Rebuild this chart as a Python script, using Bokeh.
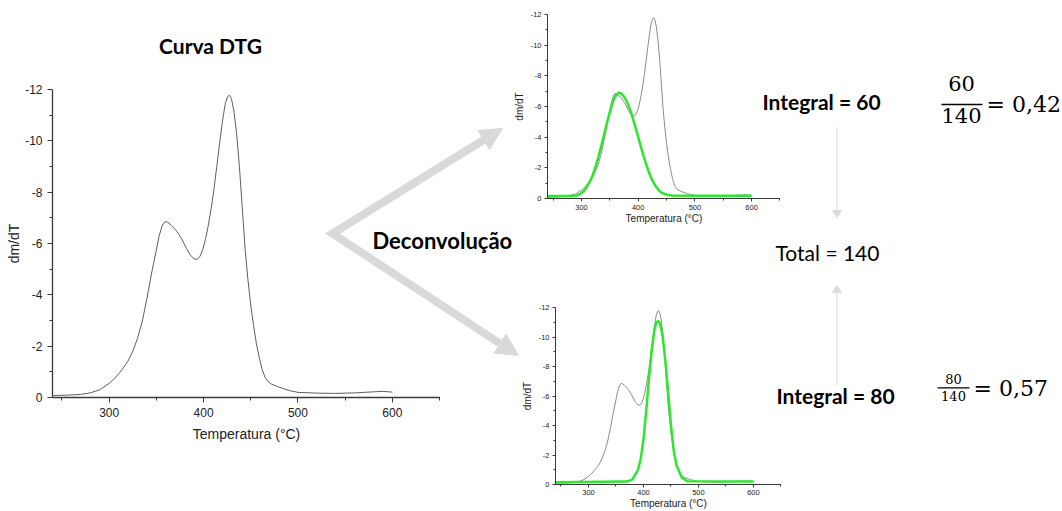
from bokeh.plotting import figure
from bokeh.models import Range1d, FixedTicker, Column
from bokeh.core.properties import value
from bokeh.embed import file_html
from bokeh.resources import INLINE

# ---------------- data ----------------
temperature = [241, 255, 270, 280, 290, 300, 305, 310, 315, 320, 325, 330, 335, 340, 345,
               350, 353, 356, 359, 362, 366, 370, 374, 378, 382, 386, 390, 393, 396, 399,
               402, 405, 408, 411, 414, 417, 420, 423, 425.5, 427.5, 429.5, 432, 435, 438,
               441, 444, 447, 450, 453, 456, 459, 462, 465, 468, 472, 478, 485, 492, 500,
               520, 540, 560, 580, 590, 600]
dtg = [-0.08, -0.09, -0.12, -0.18, -0.30, -0.55, -0.72, -0.92, -1.15, -1.42, -1.80, -2.30,
       -2.95, -3.85, -4.85, -5.75, -6.30, -6.68, -6.85, -6.83, -6.70, -6.55, -6.35, -6.10,
       -5.80, -5.55, -5.40, -5.38, -5.48, -5.75, -6.15, -6.70, -7.35, -8.10, -9.00, -9.90,
       -10.75, -11.45, -11.72, -11.78, -11.65, -11.20, -10.30, -9.00, -7.40, -5.80, -4.60,
       -3.60, -2.80, -2.10, -1.55, -1.10, -0.80, -0.63, -0.52, -0.43, -0.34, -0.26, -0.20,
       -0.17, -0.16, -0.18, -0.22, -0.24, -0.21]

peak1_temperature = [240, 280, 292, 300, 305, 310, 315, 320, 325, 330, 335, 340, 345, 350,
                     354, 358, 362, 366, 370, 374, 378, 382, 386, 390, 395, 400, 405, 410,
                     415, 420, 425, 430, 435, 440, 450, 460, 480, 600]
peak1_fit = [-0.17, -0.18, -0.20, -0.35, -0.52, -0.80, -1.13, -1.55, -2.10, -2.75, -3.45,
             -4.20, -4.95, -5.65, -6.15, -6.55, -6.80, -6.90, -6.85, -6.70, -6.45, -6.15,
             -5.75, -5.30, -4.65, -4.00, -3.33, -2.70, -2.12, -1.60, -1.18, -0.85, -0.60,
             -0.40, -0.25, -0.20, -0.18, -0.18]

peak2_temperature = [240, 370, 380, 390, 395, 400, 405, 410, 415, 420, 423, 426, 429, 432,
                     435, 440, 445, 450, 455, 460, 470, 480, 600]
peak2_fit = [-0.16, -0.20, -0.35, -1.00, -1.75, -3.05, -5.00, -7.20, -9.10, -10.50, -10.95,
             -11.08, -11.00, -10.60, -10.00, -8.30, -6.20, -4.00, -2.30, -1.30, -0.45,
             -0.22, -0.20]

x_ticks = [300, 400, 500, 600]
x_minor_ticks = [250, 350, 450, 550, 650]
y_ticks = [0, -2, -4, -6, -8, -10, -12]
y_tick_labels = ["0", "-2", "-4", "-6", "-8", "-10", "-12"]
y_minor_ticks = [-1, -3, -5, -7, -9, -11]

title_text = "Curva DTG"
arrow_text = "Deconvolução"
integral_texts = ["Integral = 60", "Integral = 80"]
total_text = "Total = 140"
frac1 = ("60", "140", "= 0,42")
frac2 = ("80", "140", "= 0,57")

W, H = 1062, 511
L_BORDER = 52          # identical left border for every layer (layouts align borders)
AX_FONT = "Liberation Sans"


def dtg_axes(left, right, top, bottom, tick_fs, label_fs, tick_out, minor_out,
             axis_w, xl_stand, xa_stand, yl_stand, ya_stand):
    p = figure(width=L_BORDER + (right - left), height=H,
               x_range=Range1d(240, 651), y_range=Range1d(0, -12),
               output_backend="svg", toolbar_location=None,
               min_border_left=L_BORDER, min_border_right=0,
               min_border_top=top, min_border_bottom=H - bottom)
    p.margin = (-H, 0, 0, left - L_BORDER)
    p.background_fill_color = None
    p.border_fill_color = None
    p.outline_line_color = None
    p.grid.visible = False
    p.xaxis.ticker = FixedTicker(ticks=x_ticks, minor_ticks=x_minor_ticks)
    p.yaxis.ticker = FixedTicker(ticks=y_ticks, minor_ticks=y_minor_ticks)
    p.yaxis.major_label_overrides = {t: l for t, l in zip(y_ticks, y_tick_labels)}
    p.xaxis.axis_label = "Temperatura (°C)"
    p.yaxis.axis_label = "dm/dT"
    for ax in (p.xaxis, p.yaxis):
        ax.axis_line_color = "#3a3a3a"
        ax.axis_line_width = axis_w
        ax.major_tick_line_color = "#3a3a3a"
        ax.minor_tick_line_color = "#3a3a3a"
        ax.major_tick_in = 0
        ax.minor_tick_in = 0
        ax.major_tick_out = tick_out
        ax.minor_tick_out = minor_out
        ax.major_label_text_font = AX_FONT
        ax.major_label_text_font_size = f"{tick_fs}px"
        ax.major_label_text_color = "#222222"
        ax.axis_label_text_font = AX_FONT
        ax.axis_label_text_font_size = f"{label_fs}px"
        ax.axis_label_text_font_style = "normal"
        ax.axis_label_text_color = "#222222"
    p.xaxis.major_label_standoff = xl_stand
    p.xaxis.axis_label_standoff = xa_stand
    p.yaxis.major_label_standoff = yl_stand
    p.yaxis.axis_label_standoff = ya_stand
    return p


# main DTG plot
p_main = dtg_axes(52, 440, 89, 397, 12, 14, 5, 3, 1.3, 5, 6, 5, 0)
p_main.line(temperature, dtg, line_color="#5e5e5e", line_width=1.0)

# upper deconvolution plot (first peak)
p_top = dtg_axes(547, 780, 14, 198, 7.5, 10, 3, 2, 1.0, 3, 0, 3, 3)
p_top.line(temperature, dtg, line_color="#8c8c8c", line_width=1)
p_top.line(peak1_temperature, peak1_fit, line_color="#2EE62E", line_width=2.5)

# lower deconvolution plot (second peak)
p_bot = dtg_axes(555, 781, 307, 485, 7.5, 10, 3, 2, 1.0, 2, 0, 3, 3)
p_bot.line(temperature, dtg, line_color="#8c8c8c", line_width=1)
p_bot.line(peak2_temperature, peak2_fit, line_color="#2EE62E", line_width=2.5)

# ---------------- decoration layer (page pixel coordinates) ----------------
DEC_LEFT = 150
bg = figure(width=L_BORDER + (W - DEC_LEFT), height=H,
            x_range=Range1d(DEC_LEFT, W), y_range=Range1d(H, 0),
            output_backend="svg", toolbar_location=None,
            x_axis_type=None, y_axis_type=None,
            min_border_left=L_BORDER, min_border_right=0,
            min_border_top=0, min_border_bottom=0)
bg.margin = (0, 0, 0, DEC_LEFT - L_BORDER)
bg.background_fill_color = None
bg.border_fill_color = None
bg.outline_line_color = None

# big grey "deconvolution" arrows
bg.line([483, 332, 499.5], [139.5, 233, 343], line_color="#d9d9d9", line_width=8,
        line_join="miter")
bg.patches([[502, 489, 477.5], [518, 493.5, 505.5]],
           [[128, 149, 130], [355, 352.5, 333.5]],
           fill_color="#d9d9d9", line_color="#d9d9d9")

# thin vertical arrows towards the total
bg.segment([836.5, 836.5], [127, 385], [836.5, 836.5], [210, 292],
           line_color="#e3e3e3", line_width=1.5)
bg.patches([[832, 841, 836.5], [832, 841, 836.5]], [[210, 210, 217], [292, 292, 285]],
           fill_color="#dcdcdc", line_color="#dcdcdc")

bg.text([210], [45], text=[title_text], text_font=value("Lato"), text_font_style="bold",
        text_font_size="21px", text_align="center", text_baseline="middle", text_color="#000000")
bg.text([372], [240], text=[arrow_text], text_font=value("Lato"), text_font_style="bold",
        text_font_size="22px", text_align="left", text_baseline="middle", text_color="#000000")
bg.text([821, 835], [101, 395], text=integral_texts, text_font=value("Lato"),
        text_font_style="bold", text_font_size="21px", text_align="center",
        text_baseline="middle", text_color="#000000")
bg.text([827], [252], text=[total_text], text_font=value("Lato"),
        text_font_size="21px", text_align="center", text_baseline="middle", text_color="#000000")

# fractions
SERIF = value("DejaVu Serif")
bg.text([961, 961], [83, 115], text=[frac1[0], frac1[1]], text_font=SERIF,
        text_font_size="21px", text_align="center", text_baseline="middle", text_color="#000000")
bg.segment([941], [104], [982], [104], line_color="#000000", line_width=1.5)
bg.text([986], [104], text=[frac1[2]], text_font=SERIF, text_font_size="22px",
        text_align="left", text_baseline="middle", text_color="#000000")

bg.text([953, 953], [378.5, 395], text=[frac2[0], frac2[1]], text_font=SERIF,
        text_font_size="13px", text_align="center", text_baseline="middle", text_color="#000000")
bg.segment([937], [387.3], [969], [387.3], line_color="#000000", line_width=1.2)
bg.text([973], [388], text=[frac2[2]], text_font=SERIF, text_font_size="22px",
        text_align="left", text_baseline="middle", text_color="#000000")

layout = Column(children=[bg, p_main, p_top, p_bot], width=W, height=H)

open("out.html", "w").write(file_html(layout, INLINE))
